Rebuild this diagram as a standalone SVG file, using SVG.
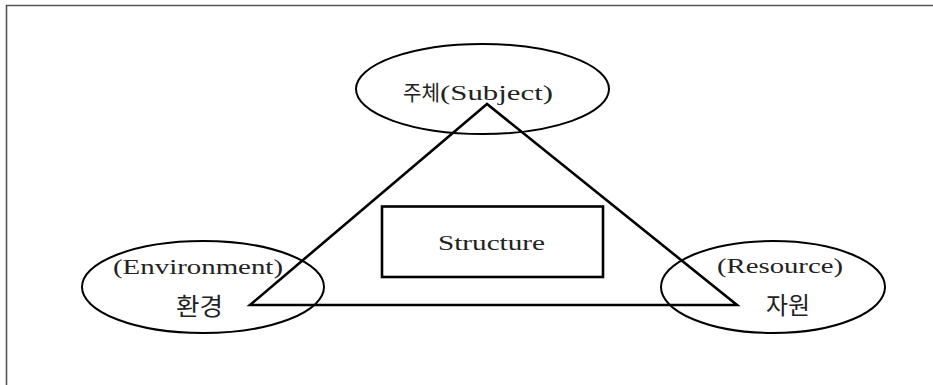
<svg xmlns="http://www.w3.org/2000/svg" width="933" height="385" viewBox="0 0 933 385">
<style>
.ell{fill:none;stroke:#000;stroke-width:2}
.line{fill:none;stroke:#000;stroke-width:2.6;stroke-linejoin:miter}
.lat{font-family:"Liberation Serif","Noto Sans CJK KR",serif;fill:#222}
.kr{font-family:"Noto Sans CJK KR","Noto Sans CJK SC",sans-serif;fill:#222}
</style>
<rect width="933" height="385" fill="#fff"/>
<path d="M6.5,385 V5.5 H933" fill="none" stroke="#555" stroke-width="1.6"/>
<g id="connectors">
<polygon class="line" points="487,104 250,305 737,305"/>
</g>
<g id="subject">
<ellipse class="ell" cx="482.5" cy="89" rx="126.5" ry="45"/>
<text class="kr" x="403" y="100" font-size="21" textLength="37" lengthAdjust="spacingAndGlyphs">주체</text>
<text class="lat" x="440" y="100" font-size="20" textLength="113" lengthAdjust="spacingAndGlyphs">(Subject)</text>
</g>
<g id="environment">
<ellipse class="ell" cx="203" cy="287" rx="121" ry="46"/>
<text class="lat" x="113" y="274" font-size="20" textLength="170" lengthAdjust="spacingAndGlyphs">(Environment)</text>
<text class="kr" x="176" y="315" font-size="24" textLength="47" lengthAdjust="spacingAndGlyphs">환경</text>
</g>
<g id="resource">
<ellipse class="ell" cx="773" cy="287" rx="112" ry="46"/>
<text class="lat" x="717" y="273" font-size="20" textLength="126" lengthAdjust="spacingAndGlyphs">(Resource)</text>
<text class="kr" x="766" y="314" font-size="24" textLength="44" lengthAdjust="spacingAndGlyphs">자원</text>
</g>
<g id="structure">
<rect x="382" y="206.5" width="221" height="70.5" fill="none" stroke="#000" stroke-width="2.6"/>
<text class="lat" x="438" y="250" font-size="20" textLength="107" lengthAdjust="spacingAndGlyphs">Structure</text>
</g>
</svg>
